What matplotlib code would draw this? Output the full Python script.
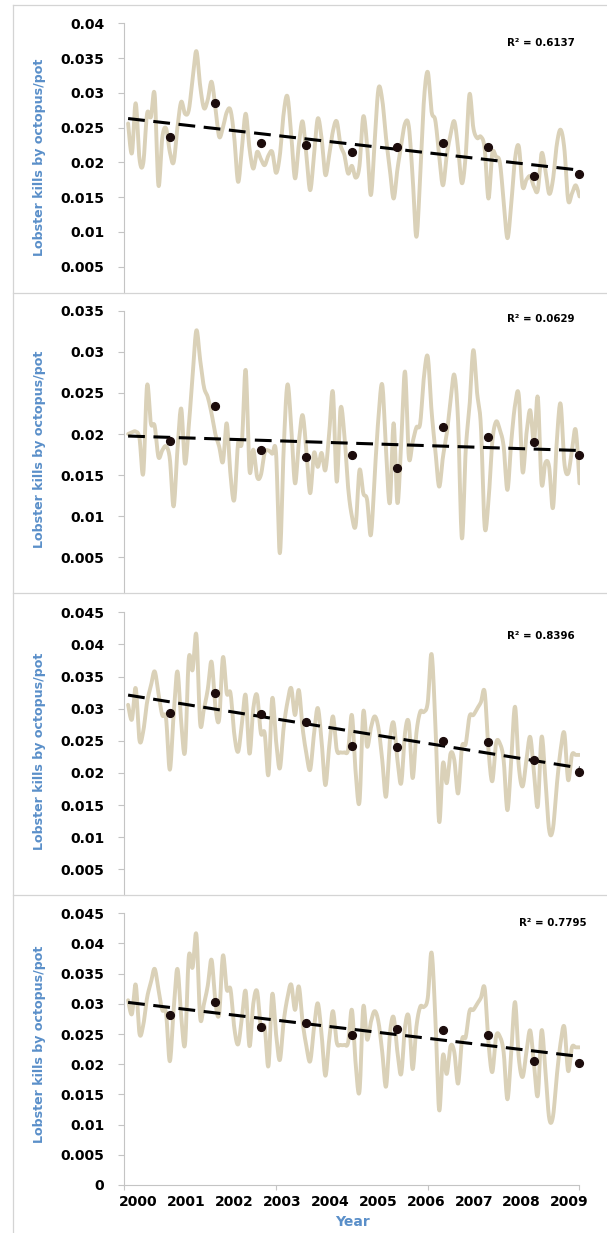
import matplotlib

matplotlib.use("Agg")
import matplotlib.pyplot as plt
import numpy as np
from matplotlib.lines import Line2D

W, H = 607, 1233

LINE_COLOR = "#DAD1B8"
DOT_COLOR = "#1C0C0C"
LABEL_BLUE = "#5A8FC9"
AXIS_GRAY = "#C4C4C4"
FRAME_GRAY = "#D4D4D4"

years = ["2000", "2001", "2002", "2003", "2004", "2005", "2006", "2007", "2008", "2009"]

# monthly kills per pot, one row per year
monthly_a = [
    0.0256, 0.0213, 0.0285, 0.0205, 0.0199, 0.0270, 0.0265, 0.0298, 0.0167, 0.0235, 0.0249, 0.0215,
    0.0200, 0.0250, 0.0287, 0.0270, 0.0275, 0.0320, 0.0360, 0.0310, 0.0278, 0.0290, 0.0316, 0.0280,
    0.0237, 0.0250, 0.0272, 0.0275, 0.0235, 0.0172, 0.0220, 0.0270, 0.0220, 0.0191, 0.0215, 0.0205,
    0.0196, 0.0210, 0.0215, 0.0185, 0.0210, 0.0270, 0.0295, 0.0240, 0.0177, 0.0225, 0.0259, 0.0210,
    0.0160, 0.0210, 0.0263, 0.0235, 0.0182, 0.0210, 0.0245, 0.0259, 0.0225, 0.0211, 0.0184, 0.0195,
    0.0178, 0.0195, 0.0266, 0.0225, 0.0153, 0.0230, 0.0306, 0.0290, 0.0235, 0.0190, 0.0148, 0.0190,
    0.0225, 0.0256, 0.0252, 0.0180, 0.0093, 0.0180, 0.0290, 0.0330, 0.0273, 0.0260, 0.0210, 0.0167,
    0.0210, 0.0240, 0.0259, 0.0220, 0.0170, 0.0210, 0.0298, 0.0250, 0.0235, 0.0237, 0.0220, 0.0148,
    0.0213, 0.0208, 0.0200, 0.0145, 0.0091, 0.0140, 0.0205, 0.0223, 0.0165, 0.0175, 0.0180, 0.0165,
    0.0160, 0.0213, 0.0190, 0.0155, 0.0175, 0.0225, 0.0247, 0.0220, 0.0146, 0.0155, 0.0167, 0.0151,
]
monthly_b = [
    0.0200, 0.0202, 0.0203, 0.0195, 0.0152, 0.0259, 0.0213, 0.0210, 0.0172, 0.0180, 0.0185, 0.0170,
    0.0112, 0.0180, 0.0231, 0.0164, 0.0210, 0.0270, 0.0326, 0.0290, 0.0257, 0.0245, 0.0225, 0.0200,
    0.0185, 0.0166, 0.0213, 0.0150, 0.0120, 0.0189, 0.0190, 0.0278, 0.0156, 0.0181, 0.0148, 0.0150,
    0.0177, 0.0180, 0.0176, 0.0177, 0.0055, 0.0180, 0.0260, 0.0210, 0.0140, 0.0190, 0.0223, 0.0180,
    0.0128, 0.0177, 0.0160, 0.0177, 0.0156, 0.0200, 0.0251, 0.0142, 0.0231, 0.0200, 0.0135, 0.0100,
    0.0089, 0.0156, 0.0128, 0.0120, 0.0077, 0.0150, 0.0220, 0.0260, 0.0180, 0.0116, 0.0213, 0.0116,
    0.0190, 0.0276, 0.0172, 0.0190, 0.0208, 0.0213, 0.0270, 0.0294, 0.0228, 0.0180, 0.0136, 0.0172,
    0.0200, 0.0240, 0.0272, 0.0215, 0.0073, 0.0180, 0.0233, 0.0302, 0.0250, 0.0210, 0.0087, 0.0118,
    0.0190, 0.0215, 0.0205, 0.0185, 0.0132, 0.0190, 0.0235, 0.0247, 0.0154, 0.0200, 0.0229, 0.0190,
    0.0245, 0.0140, 0.0165, 0.0160, 0.0110, 0.0190, 0.0237, 0.0165, 0.0152, 0.0180, 0.0205, 0.0140,
]
monthly_c = [
    0.0306, 0.0283, 0.0332, 0.0251, 0.0265, 0.0310, 0.0335, 0.0358, 0.0324, 0.0290, 0.0285, 0.0205,
    0.0290, 0.0358, 0.0280, 0.0233, 0.0378, 0.0360, 0.0415, 0.0277, 0.0300, 0.0330, 0.0373, 0.0303,
    0.0283, 0.0380, 0.0324, 0.0324, 0.0260, 0.0233, 0.0277, 0.0321, 0.0230, 0.0300, 0.0321, 0.0262,
    0.0262, 0.0197, 0.0316, 0.0250, 0.0207, 0.0270, 0.0310, 0.0332, 0.0290, 0.0329, 0.0270, 0.0230,
    0.0205, 0.0260, 0.0301, 0.0250, 0.0181, 0.0240, 0.0288, 0.0236, 0.0232, 0.0232, 0.0236, 0.0290,
    0.0200, 0.0155, 0.0295, 0.0241, 0.0270, 0.0288, 0.0270, 0.0220, 0.0163, 0.0250, 0.0278, 0.0220,
    0.0184, 0.0262, 0.0278, 0.0192, 0.0262, 0.0295, 0.0295, 0.0310, 0.0385, 0.0277, 0.0124, 0.0215,
    0.0184, 0.0230, 0.0220, 0.0168, 0.0240, 0.0245, 0.0288, 0.0290, 0.0300, 0.0310, 0.0326, 0.0236,
    0.0187, 0.0246, 0.0246, 0.0220, 0.0142, 0.0220, 0.0303, 0.0210, 0.0179, 0.0220, 0.0256, 0.0200,
    0.0148, 0.0256, 0.0190, 0.0111, 0.0113, 0.0180, 0.0235, 0.0262, 0.0189, 0.0228, 0.0228, 0.0228,
]

# yearly values (dots)
annual_1 = [0.0237, 0.0285, 0.0228, 0.0225, 0.0215, 0.0222, 0.0228, 0.0222, 0.0180, 0.0183]
annual_2 = [0.0191, 0.0234, 0.0181, 0.0172, 0.0174, 0.0159, 0.0208, 0.0196, 0.0190, 0.0174]
annual_3 = [0.0294, 0.0325, 0.0292, 0.0280, 0.0242, 0.0241, 0.0249, 0.0248, 0.0220, 0.0201]
annual_4 = [0.0282, 0.0303, 0.0261, 0.0269, 0.0248, 0.0259, 0.0257, 0.0248, 0.0206, 0.0202]

r2_labels = ["R\u00b2 = 0.6137", "R\u00b2 = 0.0629", "R\u00b2 = 0.8396", "R\u00b2 = 0.7795"]

plt.rcParams["font.family"] = "DejaVu Sans"
plt.rcParams["font.weight"] = "bold"


def catmull_rom(x, y, steps=12):
    p = np.column_stack([x, y]).astype(float)
    p = np.vstack([p[0], p, p[-1]])
    t = np.linspace(0, 1, steps, endpoint=False)[:, None]
    segs = []
    for i in range(1, len(p) - 2):
        p0, p1, p2, p3 = p[i - 1], p[i], p[i + 1], p[i + 2]
        segs.append(0.5 * (2 * p1 + (-p0 + p2) * t
                           + (2 * p0 - 5 * p1 + 4 * p2 - p3) * t ** 2
                           + (-p0 + 3 * p1 - 3 * p2 + p3) * t ** 3))
    segs.append(p[-2][None, :])
    out = np.vstack(segs)
    return out[:, 0], out[:, 1]


# pixel layout for each panel: top tick px, px per 0.005, bottom px, top tick value
panels = [
    dict(monthly=monthly_a, annual=annual_1, top=23.3, step=34.77, bottom=292.7, ymax=0.04,
         r2_xy=(541, 43.5), ylab_y=157.5, frame=5.0),
    dict(monthly=monthly_b, annual=annual_2, top=310.7, step=41.1, bottom=593.3, ymax=0.035,
         r2_xy=(541, 319.5), ylab_y=449.0, frame=292.7),
    dict(monthly=monthly_c, annual=annual_3, top=612.3, step=32.12, bottom=895.0, ymax=0.045,
         r2_xy=(541, 636.0), ylab_y=751.0, frame=593.3),
    dict(monthly=monthly_c, annual=annual_4, top=913.3, step=30.19, bottom=1185.0, ymax=0.045,
         r2_xy=(553, 923.5), ylab_y=1044.0, frame=895.0),
]

AX_LEFT, AX_RIGHT = 124.3, 579.5

fig = plt.figure(figsize=(W / 100, H / 100), dpi=100)
fig.patch.set_facecolor("white")

for k, pnl in enumerate(panels):
    last = k == len(panels) - 1
    ymin = pnl["ymax"] - (pnl["bottom"] - pnl["top"]) / pnl["step"] * 0.005
    ax = fig.add_axes([AX_LEFT / W, 1 - pnl["bottom"] / H,
                       (AX_RIGHT - AX_LEFT) / W, (pnl["bottom"] - pnl["top"]) / H])
    ax.set_facecolor("none")

    months = np.arange(1, len(pnl["monthly"]) + 1)
    sx, sy = catmull_rom(months, pnl["monthly"])
    ax.plot(sx, sy, color=LINE_COLOR, lw=2.8, solid_joinstyle="round",
            solid_capstyle="round", zorder=2)

    dot_x = np.arange(12, 12 * len(pnl["annual"]) + 1, 12)
    coef = np.polyfit(dot_x, pnl["annual"], 1)
    tx = np.array([1, 120])
    ax.plot(tx, np.polyval(coef, tx), color="black", lw=2.2, dashes=(5.5, 2.8), zorder=3)
    ax.plot(dot_x, pnl["annual"], "o", ms=5.6, color=DOT_COLOR, zorder=4, clip_on=False)

    ax.set_xlim(0, 120)
    ax.set_ylim(ymin, pnl["ymax"])
    # the zero tick only shows on the bottom panel; the others are cut above it
    y_start = 0.0 if last else 0.005
    yt = np.round(np.arange(y_start, pnl["ymax"] + 1e-9, 0.005), 3)
    ax.set_yticks(yt)
    ax.set_yticklabels([f"{v:g}" for v in yt])
    ax.tick_params(axis="y", direction="out", length=4.5, width=0.8, color=AXIS_GRAY,
                   pad=10, labelsize=10, labelcolor="black")

    for side in ("top", "right"):
        ax.spines[side].set_visible(False)
    ax.spines["left"].set_color(AXIS_GRAY)
    ax.spines["left"].set_linewidth(0.8)

    if last:
        ax.spines["bottom"].set_color(AXIS_GRAY)
        ax.spines["bottom"].set_linewidth(0.8)
        ax.set_xticks([0, 40, 80, 120])
        ax.set_xticklabels([])
        ax.tick_params(axis="x", which="major", direction="out", length=3.6, width=0.8,
                       color=AXIS_GRAY)
        ax.set_xticks(np.linspace(3.7, 117.4, len(years)), minor=True)
        ax.set_xticklabels(years, minor=True)
        ax.tick_params(axis="x", which="minor", length=0, pad=7, labelsize=10,
                       labelcolor="black")
    else:
        ax.spines["bottom"].set_visible(False)
        ax.set_xticks([])

    fig.text(40 / W, 1 - pnl["ylab_y"] / H, "Lobster kills by octopus/pot", rotation=90,
             ha="center", va="center", fontsize=9.1, color=LABEL_BLUE)
    fig.text(pnl["r2_xy"][0] / W, 1 - pnl["r2_xy"][1] / H, r2_labels[k],
             ha="center", va="center", fontsize=7.4, color="black")

    # panel border
    fig.add_artist(Line2D([13 / W, 1], [1 - pnl["frame"] / H] * 2, color=FRAME_GRAY,
                          lw=0.9, transform=fig.transFigure))

fig.add_artist(Line2D([13 / W, 13 / W], [1 - 5 / H, 0], color=FRAME_GRAY, lw=0.9,
                      transform=fig.transFigure))

fig.text(352 / W, 1 - 1221.5 / H, "Year", ha="center", va="center", fontsize=10,
         color=LABEL_BLUE)

fig.savefig("out.png", dpi=100)
